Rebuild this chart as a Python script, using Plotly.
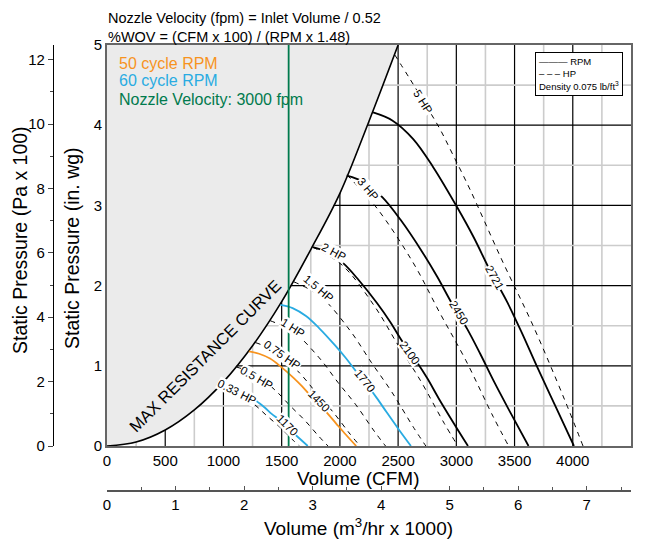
import plotly.graph_objects as go

# ---------------- data ----------------
max_res_cfm = [0, 250, 500, 750, 1000, 1250, 1500, 1750, 2000, 2250, 2500]
max_res_sp = [0, 0.05, 0.2, 0.45, 0.8, 1.25, 1.8, 2.45, 3.15, 4.05, 5.0]

rpm_labels = ["1170", "1450", "1770", "2100", "2450", "2721"]
rpm_colors = ["#29abe2", "#f7931e", "#29abe2", "#000000", "#000000", "#000000"]
rpm_cfm = [
    [983, 1054, 1130, 1204, 1293, 1354, 1414, 1477, 1531, 1588, 1656, 1724],
    [1218, 1306, 1400, 1492, 1602, 1678, 1753, 1830, 1897, 1968, 2052, 2140],
    [1490, 1594, 1709, 1821, 1955, 2049, 2139, 2234, 2316, 2402, 2504, 2610],
    [1766, 1891, 2028, 2161, 2320, 2431, 2538, 2651, 2748, 2850, 2971, 3100],
    [2059, 2206, 2366, 2521, 2707, 2836, 2961, 3093, 3205, 3325, 3467, 3620],
    [2285, 2450, 2628, 2800, 3006, 3150, 3289, 3435, 3560, 3693, 3850, 4010],
]
rpm_sp = [
    [0.77, 0.75, 0.71, 0.65, 0.55, 0.48, 0.40, 0.33, 0.26, 0.18, 0.09, 0.0],
    [1.18, 1.15, 1.09, 0.99, 0.85, 0.74, 0.62, 0.51, 0.40, 0.28, 0.14, 0.0],
    [1.76, 1.72, 1.62, 1.47, 1.26, 1.10, 0.93, 0.76, 0.60, 0.42, 0.21, 0.0],
    [2.48, 2.42, 2.28, 2.07, 1.78, 1.55, 1.30, 1.07, 0.85, 0.59, 0.30, 0.0],
    [3.37, 3.29, 3.10, 2.82, 2.42, 2.11, 1.78, 1.46, 1.15, 0.80, 0.41, 0.0],
    [4.16, 4.06, 3.83, 3.48, 2.98, 2.60, 2.19, 1.80, 1.42, 0.99, 0.50, 0.0],
]
rpm_label_pos = [(1546, 0.26), (1821, 0.56), (2216, 0.81), (2602, 1.16), (3023, 1.66), (3332, 2.1)]
rpm_label_angle = [45, 46, 51, 54, 59, 61]

hp_labels = ["0.33 HP", "0.5 HP", "0.75 HP", "1 HP", "1.5 HP", "2 HP", "3 HP", "5 HP"]
hp_cfm = [
    [969, 1107, 1260, 1371, 1477, 1588, 1653],
    [1113, 1271, 1447, 1574, 1696, 1824, 1898],
    [1274, 1455, 1656, 1802, 1941, 2088, 2173],
    [1402, 1602, 1823, 1983, 2137, 2298, 2392],
    [1605, 1834, 2087, 2271, 2446, 2631, 2738],
    [1766, 2018, 2297, 2499, 2692, 2895, 3013],
    [2060, 2310, 2629, 2861, 3081, 3314, 3449],
    [2470, 2600, 2738, 2860, 2971, 3117, 3391, 3653, 3929, 4088],
]
hp_sp = [
    [0.746, 0.679, 0.525, 0.379, 0.245, 0.086, 0.0],
    [0.984, 0.896, 0.692, 0.500, 0.324, 0.113, 0.0],
    [1.290, 1.174, 0.907, 0.655, 0.424, 0.148, 0.0],
    [1.562, 1.422, 1.099, 0.794, 0.514, 0.179, 0.0],
    [2.047, 1.864, 1.440, 1.040, 0.673, 0.235, 0.0],
    [2.480, 2.257, 1.744, 1.260, 0.816, 0.285, 0.0],
    [3.380, 2.980, 2.286, 1.652, 1.069, 0.373, 0.0],
    [4.88, 4.58, 4.25, 3.95, 3.63, 3.20, 2.32, 1.52, 0.58, 0.0],
]
hp_label_pos = [(1116, 0.67), (1288, 0.85), (1503, 1.13), (1597, 1.47), (1812, 1.97), (1949, 2.42), (2241, 3.2), (2714, 4.29)]
hp_label_angle = [27, 30, 35, 32, 40, 28, 50, 58]

nozzle_cfm = 1560

legend_lines = ["50 cycle RPM", "60 cycle RPM", "Nozzle Velocity: 3000 fpm"]
legend_colors = ["#f7931e", "#29abe2", "#007a4d"]
formula_lines = ["Nozzle Velocity (fpm) = Inlet Volume / 0.52", "%WOV = (CFM x 100) / (RPM x 1.48)"]

x_ticks = [0, 500, 1000, 1500, 2000, 2500, 3000, 3500, 4000, 4500]
y_ticks = [0, 1, 2, 3, 4, 5]
pa_ticks = [0, 2, 4, 6, 8, 10, 12]
m3_ticks = [0, 1, 2, 3, 4, 5, 6, 7]

# ---------------- layout geometry ----------------
OFF = 8                      # page body margin
W, H = 639, 533
PW, PH = W, H
def fx(px):
    return (px - OFF) / PW
def fy(py):
    return (H - (py - OFF)) / PH

X0, X1, Y0, Y1 = 107, 631, 446, 45
xdom = [fx(X0), fx(X1)]
ydom = [fy(Y0), fy(Y1)]

FONT = "Liberation Sans, Arial, sans-serif"
fig = go.Figure()

shapes = []
for v in range(250, 4500, 250):
    major = v % 500 == 0
    shapes.append(dict(type="line", xref="x", yref="y", x0=v, x1=v, y0=0, y1=5,
                       line=dict(color="#000000" if major else "#cccccc", width=1.2 if major else 1.6), layer="below"))
for v in [0.5, 1, 1.5, 2, 2.5, 3, 3.5, 4, 4.5]:
    major = abs(v - round(v)) < 1e-9
    shapes.append(dict(type="line", xref="x", yref="y", x0=0, x1=4500, y0=v, y1=v,
                       line=dict(color="#000000" if major else "#cccccc", width=1.2 if major else 1.6), layer="below"))

fig.add_trace(go.Scatter(x=[0] + max_res_cfm + [0], y=[5] + max_res_sp + [5], fill="toself",
                         fillcolor="#ebebeb", line=dict(width=0), mode="lines", hoverinfo="skip", showlegend=False))
fig.add_trace(go.Scatter(x=max_res_cfm, y=max_res_sp, mode="lines", line=dict(color="black", width=1.6, shape="spline"),
                         showlegend=False))

for cx, cy in zip(hp_cfm, hp_sp):
    fig.add_trace(go.Scatter(x=cx, y=cy, mode="lines", line=dict(color="black", width=1, dash="5px,5px", shape="spline"),
                             showlegend=False))
for cx, cy, c in zip(rpm_cfm, rpm_sp, rpm_colors):
    fig.add_trace(go.Scatter(x=cx, y=cy, mode="lines", line=dict(color=c, width=1.8, shape="spline"), showlegend=False))

fig.add_trace(go.Scatter(x=[nozzle_cfm, nozzle_cfm], y=[0, 5], mode="lines", line=dict(color="#007a4d", width=1.8),
                         showlegend=False))

fig.add_trace(go.Scatter(x=[0], y=[0], xaxis="x2", yaxis="y2", mode="markers", marker=dict(opacity=0),
                         hoverinfo="skip", showlegend=False))

ann = []
for lab, (ax_, ay_), ang in zip(hp_labels, hp_label_pos, hp_label_angle):
    ann.append(dict(x=ax_, y=ay_, xref="x", yref="y", text=lab, showarrow=False, textangle=ang,
                    font=dict(family=FONT, size=11.5, color="black"), bgcolor="white", borderpad=0))
for lab, (ax_, ay_), ang in zip(rpm_labels, rpm_label_pos, rpm_label_angle):
    ann.append(dict(x=ax_, y=ay_, xref="x", yref="y", text=lab, showarrow=False, textangle=ang,
                    font=dict(family=FONT, size=11.5, color="black"), bgcolor="white", borderpad=0))
ann.append(dict(x=842, y=1.12, xref="x", yref="y", text="MAX RESISTANCE CURVE", showarrow=False, textangle=-45,
                font=dict(family=FONT, size=16.5, color="black")))
for i, (t, c) in enumerate(zip(legend_lines, legend_colors)):
    ann.append(dict(x=fx(117), y=fy(63 + 18 * i), xref="paper", yref="paper", xanchor="left", yanchor="middle",
                    text=t, showarrow=False, font=dict(family=FONT, size=16, color=c)))
ann.append(dict(x=fx(106), y=1.0, xref="paper", yref="paper", xanchor="left", yanchor="top", align="left",
                text="<br>".join(formula_lines), showarrow=False, font=dict(family=FONT, size=14.5, color="black")))
ann.append(dict(x=fx(623), y=fy(52), xref="paper", yref="paper", xanchor="right", yanchor="top",
                text="——— RPM<br>– – – HP<br>Density 0.075 lb/ft<sup>3</sup>", showarrow=False, align="left",
                bgcolor="white", bordercolor="black", borderwidth=1, borderpad=3,
                font=dict(family=FONT, size=9.5, color="black")))
ann.append(dict(x=fx(358), y=fy(478), xref="paper", yref="paper", text="Volume (CFM)", showarrow=False,
                font=dict(family=FONT, size=19, color="black"), yanchor="middle"))
ann.append(dict(x=fx(358), y=fy(527), xref="paper", yref="paper", text="Volume (m<sup>3</sup>/hr x 1000)", showarrow=False,
                font=dict(family=FONT, size=19, color="black"), yanchor="middle"))
ann.append(dict(x=fx(72), y=fy(248), xref="paper", yref="paper", text="Static Pressure (in. wg)", showarrow=False,
                textangle=-90, font=dict(family=FONT, size=19.5, color="black"), xanchor="center"))
ann.append(dict(x=fx(20), y=fy(240), xref="paper", yref="paper", text="Static Pressure (Pa x 100)", showarrow=False,
                textangle=-90, font=dict(family=FONT, size=19.5, color="black"), xanchor="center"))

fig.update_layout(
    width=W, height=H, margin=dict(l=0, r=0, t=0, b=0, autoexpand=False),
    plot_bgcolor="rgba(0,0,0,0)", paper_bgcolor="white", shapes=shapes, annotations=ann,
    font=dict(family=FONT, size=15, color="black"), showlegend=False,
    xaxis=dict(domain=xdom, range=[0, 4500], tickvals=x_ticks, showgrid=False, zeroline=False, showline=True,
               linecolor="#666", linewidth=2, mirror=True, ticks="", tickfont=dict(size=15), anchor="y"),
    yaxis=dict(domain=ydom, range=[0, 5], tickvals=y_ticks, showgrid=False, zeroline=False, showline=True,
               linecolor="#666", linewidth=2, mirror=True, ticks="", tickfont=dict(size=15), anchor="x"),
    xaxis2=dict(domain=xdom, range=[0, 4500 * 1.699 / 1000], tickvals=m3_ticks, anchor="free", position=fy(491),
                side="bottom", showgrid=False, zeroline=False, showline=True, linecolor="#555", linewidth=1.5,
                ticks="inside", ticklen=4, tickcolor="#555", minor=dict(dtick=0.5, ticks="inside", ticklen=3, tickcolor="#555"),
                tickfont=dict(size=15)),
    yaxis2=dict(domain=ydom, range=[0, 5 * 2.4909], tickvals=pa_ticks, anchor="free", position=fx(53),
                side="left", showgrid=False, zeroline=False, showline=True, linecolor="black", linewidth=1.2,
                ticks="outside", ticklen=5, minor=dict(dtick=1, ticks="outside", ticklen=3),
                tickfont=dict(size=15)),
)
fig.write_html("out.html")
